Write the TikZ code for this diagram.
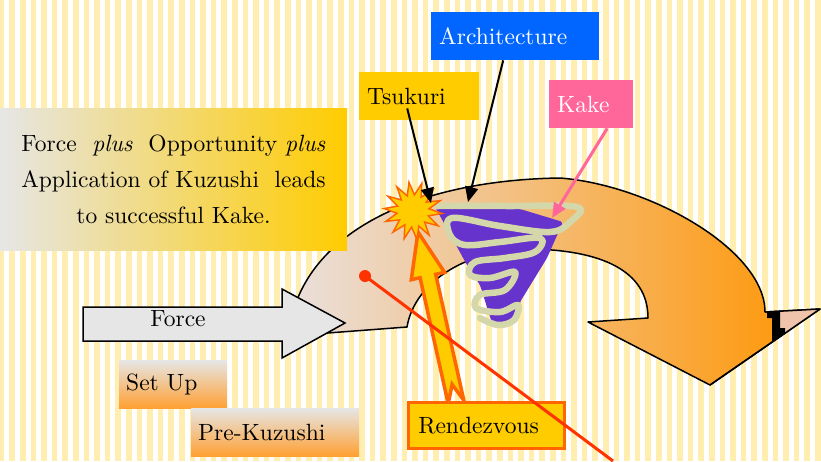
\documentclass[tikz,border=0pt]{standalone}
\usepackage{fontspec}
\setmainfont{lmroman10-regular.otf}[
  ItalicFont=lmroman10-italic.otf,BoldFont=lmroman10-bold.otf]
\usetikzlibrary{shapes.geometric,arrows.meta}
\definecolor{stripe}{RGB}{255,238,176}
\definecolor{gold}{RGB}{255,204,0}
\definecolor{flame}{RGB}{255,102,0}
\definecolor{archblue}{RGB}{0,102,255}
\definecolor{kakepink}{RGB}{255,102,153}
\definecolor{paper}{RGB}{230,230,230}
\definecolor{sand}{RGB}{238,220,180}
\definecolor{apricot}{RGB}{255,160,50}
\definecolor{blush}{RGB}{234,224,222}
\definecolor{peach}{RGB}{240,196,170}
\definecolor{tangerine}{RGB}{255,148,0}
\definecolor{vortex}{RGB}{102,51,204}
\definecolor{sage}{RGB}{212,215,170}
\definecolor{redline}{RGB}{255,51,0}
\def\slidefont{\fontsize{23.5}{26}\selectfont}

\tikzset{
  tag/.style={rectangle,inner sep=0pt,inner xsep=8pt,minimum height=48pt,
    align=left,anchor=north west,font=\slidefont},
  stage/.style={tag,top color=paper,bottom color=apricot,inner xsep=7pt},
  claim/.style={rectangle,inner sep=0pt,minimum width=347pt,minimum height=142pt,
    left color=paper,middle color=sand,right color=gold,align=center,
    font=\fontsize{23.5}{36}\selectfont},
  lead/.style={line width=2pt,-{Triangle[length=15pt,width=13pt]}},
}

\begin{document}
\begin{tikzpicture}[x=1pt,y=-1pt]
\useasboundingbox (0,0) rectangle (821,461);
% striped paper
\fill[white] (0,0) rectangle (821,461);
\foreach \k in {0,...,77}
  \fill[stripe] ({1.5+10.6*\k-2.8},0) rectangle +(5.6,461);

% big curved arrow
\shade[draw,line width=1.5pt,line join=round,left color=blush,middle color=peach,
  right color=tangerine]
  (288,336) .. controls (300,230) and (420,180) .. (560,178)
  .. controls (650,185) and (765,250) .. (765,312) -- (820,309) -- (710,385)
  -- (588,322) -- (648,318) .. controls (648,270) and (600,250) .. (530,249)
  .. controls (470,249) and (415,280) .. (407,327) -- cycle;
\fill[peach] (780,311) -- (820,309) -- (785,333) -- (785,328) -- (780,328) -- cycle;
\fill[black] (767,312) -- (780,311) -- (780,328) -- (785,328) -- (785,333)
  -- (772,343) -- (772,318) -- (767,318) -- cycle;
\draw[line width=1.5pt,line join=round] (765,312) -- (820,309) -- (710,385);

% force arrow
\draw[fill=paper,line width=1.5pt] (83,307) -- (282,307) -- (282,289) -- (345,323)
  -- (282,358) -- (282,341) -- (83,341) -- cycle;
\node[font=\slidefont] (force) at (178,319) {Force};

% the whirl
\fill[vortex,rounded corners=3pt] (434,205) -- (520,209) -- (563,222) -- (547,258)
  -- (520,302) -- (517,323) -- (492,323) -- (480,285) -- (467,265) -- cycle;
\draw[sage,line width=6.5pt,line cap=round,line join=round]
  plot[smooth,tension=0.6] coordinates {(437,206) (507,206) (577,207) (570,222)
  (550,232) (500,226) (452,218) (450,235) (465,245) (500,242) (540,238) (535,252)
  (505,258) (475,262) (470,275) (490,278) (515,272) (505,290) (480,295) (476,308)
  (500,312) (518,305) (514,320) (498,325) (480,318)};

% text box
\node[claim] (claim) at (173.5,179)
  {Force\ \ \emph{plus}\ \ Opportunity \emph{plus}\\
   Application of Kuzushi\ \ leads\\ to successful Kake.};

% rendezvous arrow
\draw[fill=gold,draw=flame,line width=3.5pt,line join=miter]
  (418,232) -- (444.5,272.3) -- (435.7,274.3) -- (463.8,400.3) -- (452.1,384.4)
  -- (448.2,403.7) -- (420.1,277.7) -- (411.3,279.7) -- cycle;

% burst
\node[star,star points=14,star point ratio=1.8,minimum size=58pt,inner sep=0pt,
  fill=gold,draw=flame,line width=1.5pt,rotate=8] (burst) at (413,211) {};

% labels
\node[tag,fill=archblue,text=white,text width=152pt] (arch) at (431,12) {Architecture};
\node[tag,fill=gold,text width=104pt] (tsukuri) at (359,72) {Tsukuri};
\node[tag,fill=kakepink,text=white,text width=68pt] (kake) at (549,80) {Kake};
\node[tag,fill=gold,draw=flame,line width=2.5pt,inner xsep=10pt,text width=136pt,
  minimum height=46pt] (rdv) at (407,401) {Rendezvous};
\node[stage,text width=94pt] (setup) at (119,360) {Set Up};
\node[stage,text width=154pt] (prekuz) at (191,408) {Pre-Kuzushi};

\coordinate (tsukuri tip) at (431,203);
\coordinate (arch tip) at (468,202);
\coordinate (kake tip) at (552,218);
\draw[lead] ([xshift=-12pt,yshift=12pt]tsukuri.south) -- (tsukuri tip);
\draw[lead] ([xshift=-12pt]arch.south) -- (arch tip);
\draw[lead,kakepink,line width=3pt] ([xshift=16pt]kake.south) -- (kake tip);

% red pointer
\node[circle,fill=redline,minimum size=12pt,inner sep=0pt] (spot) at (365,276) {};
\coordinate (exit) at (613,461);
\draw[redline,line width=3pt] (spot.center) -- (exit);
\end{tikzpicture}
\end{document}
